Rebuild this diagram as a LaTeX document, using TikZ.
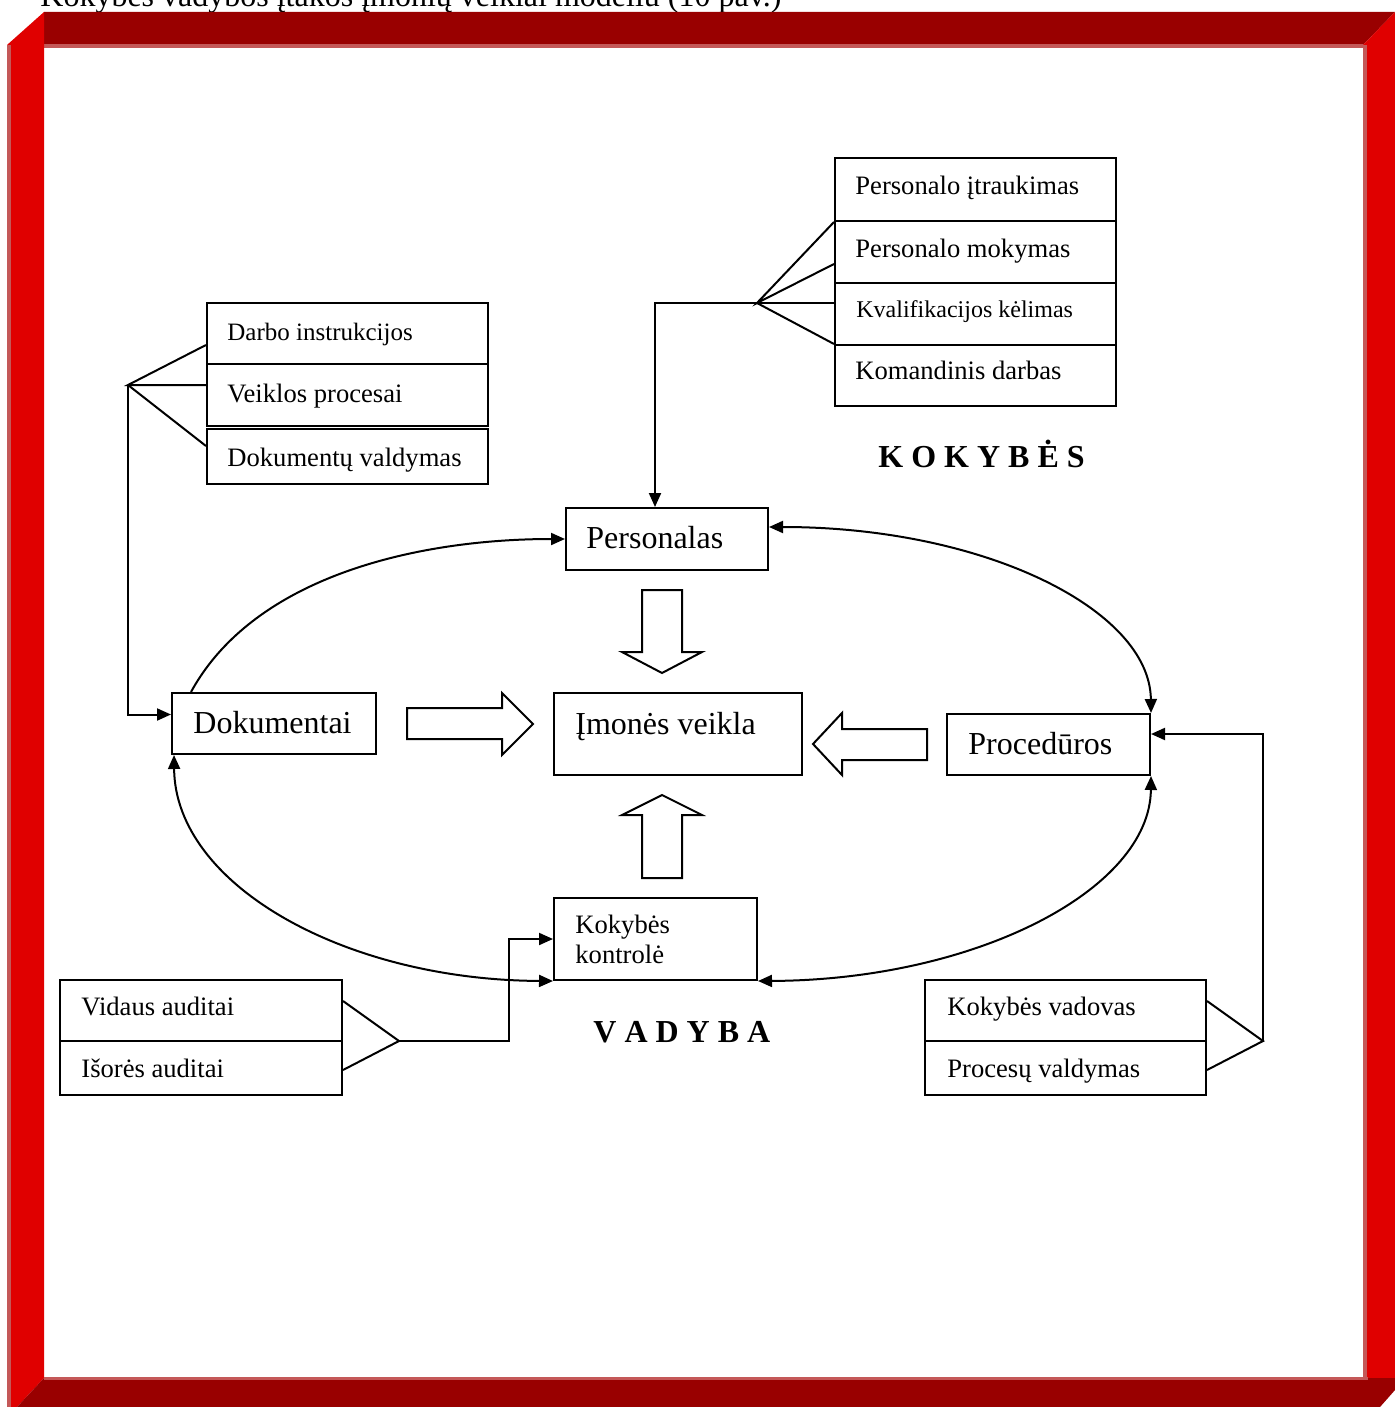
\documentclass[tikz,border=0pt]{standalone}
\usepackage{fontspec}
\setmainfont{Liberation Serif}
\usetikzlibrary{arrows.meta,fit}

\definecolor{framedark}{RGB}{153,0,0}
\definecolor{framered}{RGB}{224,0,0}
\definecolor{frameedge}{RGB}{196,88,88}

\tikzset{
  box/.style={draw=black, line width=1pt, inner sep=0pt},
  txtL/.style={anchor=base west, inner sep=0pt, font=\fontsize{16}{19}\selectfont},
  txtM/.style={anchor=base west, inner sep=0pt, font=\fontsize{13.3}{16}\selectfont},
  txtS/.style={anchor=base west, inner sep=0pt, font=\fontsize{12}{14}\selectfont},
  heading/.style={anchor=base west, inner sep=0pt, font=\fontsize{16}{19}\selectfont\bfseries},
  conn/.style={line width=1pt, draw=black},
  tip/.style={-{Triangle[length=7pt,width=6pt]}},
  bitip/.style={{Triangle[length=7pt,width=6pt]}-{Triangle[length=7pt,width=6pt]}},
  blockarrow/.style={draw=black, line width=1pt, fill=white, line join=miter},
}

\begin{document}
\begin{tikzpicture}[x=0.5pt,y=-0.5pt]
\useasboundingbox (0,0) rectangle (1395,1407);
\clip (0,0) rectangle (1395,1407);
\fill[white] (0,0) rectangle (1395,1407);

% caption line running into the top of the frame
\node[anchor=base west, inner sep=0pt, font=\fontsize{16}{19}\selectfont] (title) at (40,7)
  {Kokybės vadybos įtakos įmonių veiklai modeliu (10 pav.)};

% bevelled red frame
\fill[framedark] (44,12) -- (1395,12) -- (1363,45) -- (44,45) -- cycle;
\fill[frameedge] (44,44) rectangle (1364,48);
\fill[framered] (7,45) -- (44,12) -- (44,1378) -- (17,1407) -- (7,1407) -- cycle;
\fill[frameedge] (7,45) rectangle (11,1407);
\fill[framered] (1363,45) -- (1395,12) -- (1395,1378) -- (1365,1378) -- cycle;
\fill[frameedge] (1363,45) rectangle (1367,1378);
\fill[framedark] (44,1378) -- (1395,1378) -- (1395,1390) -- (1380,1407) -- (17,1407) -- cycle;
\fill[frameedge] (44,1377) rectangle (1368,1380);

% main boxes
\node[box, fit={(566,508) (768,570)}] (pers) {};
\node[txtL] (persT) at (586,548) {Personalas};
\node[box, fit={(172,693) (376,754)}] (dok) {};
\node[txtL] (dokT) at (193,733) {Dokumentai};
\node[box, fit={(554,693) (802,775)}] (imon) {};
\node[txtL] (imonT) at (575,734) {Įmonės veikla};
\node[box, fit={(947,714) (1150,775)}] (proc) {};
\node[txtL] (procT) at (968,754) {Procedūros};
\node[box, fit={(554,898) (757,980)}] (kk) {};
\node[txtM] (kkT1) at (575,933) {Kokybės};
\node[txtM] (kkT2) at (575,963) {kontrolė};

% personnel list
\node[box, fit={(835,158) (1116,221)}] (p1) {};
\node[txtM] (p1T) at (855,195) {Personalo įtraukimas};
\node[box, fit={(835,221) (1116,283)}] (p2) {};
\node[txtM] (p2T) at (855,257) {Personalo mokymas};
\node[box, fit={(835,283) (1116,345)}] (p3) {};
\node[txtS] (p3T) at (856,317) {Kvalifikacijos kėlimas};
\node[box, fit={(835,345) (1116,406)}] (p4) {};
\node[txtM] (p4T) at (855,379) {Komandinis darbas};

% documents list
\node[box, fit={(207,303) (488,364)}] (d1) {};
\node[anchor=base west, inner sep=0pt, font=\fontsize{12.5}{15}\selectfont] (d1T) at (227,340) {Darbo instrukcijos};
\node[box, fit={(207,364) (488,426)}] (d2) {};
\node[txtM] (d2T) at (227,402) {Veiklos procesai};
\node[box, fit={(207,429) (488,484)}] (d3) {};
\node[txtM] (d3T) at (227,466) {Dokumentų valdymas};

% audit list
\node[box, fit={(60,980) (342,1041)}] (a1) {};
\node[txtM] (a1T) at (81,1015) {Vidaus auditai};
\node[box, fit={(60,1041) (342,1095)}] (a2) {};
\node[txtM] (a2T) at (81,1077) {Išorės auditai};

% management list
\node[box, fit={(925,980) (1206,1041)}] (v1) {};
\node[txtM] (v1T) at (947,1015) {Kokybės vadovas};
\node[box, fit={(925,1041) (1206,1095)}] (v2) {};
\node[txtM] (v2T) at (947,1077) {Procesų valdymas};

% headings
\node[heading] (kokybes) at (878,467) {K O K Y B Ė S};
\node[heading] (vadyba) at (593,1042) {V A D Y B A};

% fan points
\coordinate (fanD) at (128,385);
\coordinate (fanP) at (757,303);
\coordinate (fanA) at (399,1041);
\coordinate (fanV) at (1263,1041);

% fans into the lists
\draw[conn] ([yshift=-5.75pt]d1.west) -- (fanD) -- (d2.west |- fanD);
\draw[conn] (fanD) -- ([yshift=5.25pt]d3.west);
\draw[conn] (p1.south west) -- (fanP) -- ([yshift=-6pt]p2.west);
\draw[conn] (fanP) -- (p3.west |- fanP);
\draw[conn] (fanP) -- (p4.north west);
\draw[conn] ([yshift=4.75pt]a1.east) -- (fanA) -- ([yshift=-1pt]a2.east);
\draw[conn] ([yshift=4.75pt]v1.east) -- (fanV) -- ([yshift=-1pt]v2.east);

% elbow connectors
\draw[conn, tip] (fanD) |- ([yshift=4.5pt]dok.west);
\draw[conn, tip] (fanP) -| ([xshift=-6pt]pers.north);
\draw[conn, tip] (fanA) -- ([xshift=-22pt]kk.west |- fanA) |- (kk.west);
\draw[conn, tip] (fanV) |- ([yshift=5.25pt]proc.east);

% ring of curved links
\draw[conn, tip] ([xshift=10pt]dok.north west) .. controls (255,575) and (420,539) .. (pers.west);
\draw[conn, bitip] ([yshift=6pt]pers.east) .. controls (985,527) and (1150,610) .. (proc.north east);
\draw[conn, bitip] ([xshift=1.5pt]dok.south west) .. controls (175,885) and (345,980) .. (kk.south west);
\draw[conn, bitip] (kk.south east) .. controls (975,980) and (1150,890) .. (proc.south east);

% hollow block arrows towards the centre
\draw[blockarrow] (642,590) -- (682,590) -- (682,652) -- (702,652) -- (662,673) -- (622,652) -- (642,652) -- cycle;
\draw[blockarrow] (642,878) -- (682,878) -- (682,815) -- (702,815) -- (662,795) -- (622,815) -- (642,815) -- cycle;
\draw[blockarrow] (927,729) -- (927,760) -- (842,760) -- (842,775) -- (813,744) -- (842,713) -- (842,729) -- cycle;
\draw[blockarrow] (407,708) -- (502,708) -- (502,693) -- (533,724) -- (502,755) -- (502,739) -- (407,739) -- cycle;
\end{tikzpicture}
\end{document}
